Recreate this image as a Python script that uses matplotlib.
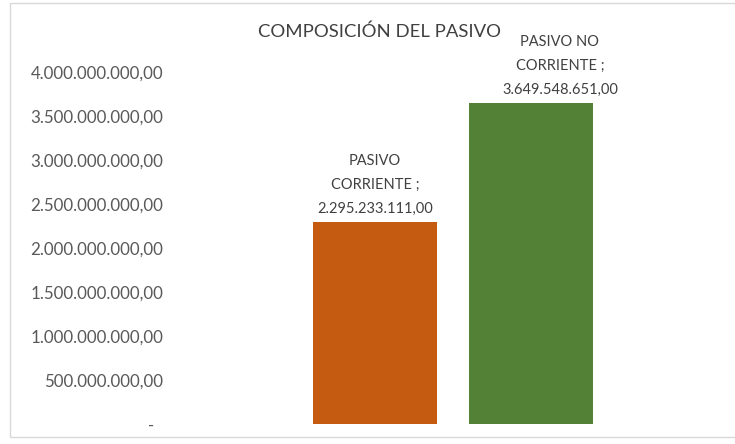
import matplotlib.pyplot as plt
from matplotlib.patches import Rectangle

# datos del grafico
categorias = ["PASIVO\nCORRIENTE", "PASIVO NO\nCORRIENTE"]
valores = [2295233111.00, 3649548651.00]
colores = ["#C55A11", "#538135"]
ticks = [0, 500e6, 1000e6, 1500e6, 2000e6, 2500e6, 3000e6, 3500e6, 4000e6]


def formato_es(v):
    # formato contable: miles con punto, decimales con coma
    if v == 0:
        return "-  "
    s = f"{v:,.2f}"
    return s.replace(",", "X").replace(".", ",").replace("X", ".")


plt.rcParams["font.family"] = ["Lato", "DejaVu Sans"]
texto = "#595959"

fig = plt.figure(figsize=(7.35, 4.44), dpi=100)
ax = fig.add_axes([170 / 735, 20 / 444, 560 / 735, 374 / 444])

# marco del grafico
fig.patches.append(Rectangle((10 / 735, 7 / 444), 0.99, 434 / 444,
                             transform=fig.transFigure, fill=False,
                             edgecolor="#d9d9d9", linewidth=1))

x = [0, 1]
ax.bar(x, valores, width=0.79, color=colores)

ax.set_xlim(-1.314, 2.276)
ax.set_ylim(0, 4.25e9)
ax.set_yticks(ticks)
ax.set_yticklabels([formato_es(t) for t in ticks], fontsize=12.2, color=texto)
ax.tick_params(axis="y", length=0, pad=5)
ax.set_xticks([])
for s in ax.spines.values():
    s.set_visible(False)

# etiquetas de datos
offsets = [(0, 6), (29, 6)]
for xi, v, cat, off in zip(x, valores, categorias, offsets):
    etiqueta = cat + " ;\n" + formato_es(v)
    ax.annotate(etiqueta, (xi, v), xytext=off, textcoords="offset pixels",
                ha="center", va="bottom", fontsize=10.5, color="#404040",
                linespacing=1.9)

fig.text(380 / 735, 1 - 32 / 444, "COMPOSICIÓN DEL PASIVO", ha="center",
         va="center", fontsize=13.3, color="#404040")

fig.savefig("out.png", dpi=100)
